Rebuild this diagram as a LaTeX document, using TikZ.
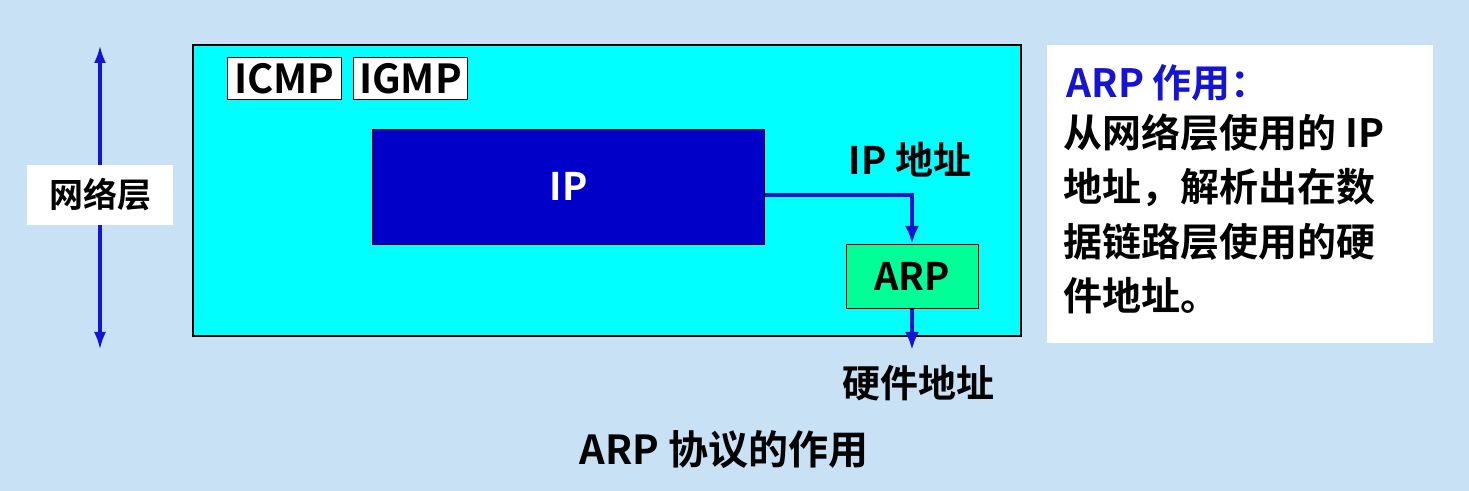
\documentclass[tikz,border=0pt]{standalone}
\usetikzlibrary{arrows.meta}
\usepackage{fontspec}
\setmainfont{Noto Sans CJK SC}[BoldFont={Noto Sans CJK SC Bold}]
\definecolor{cy}{RGB}{0,255,255}
\definecolor{bg}{RGB}{200,225,245}
\definecolor{ab}{RGB}{20,20,210}
\begin{document}
\begin{tikzpicture}[x=0.5pt,y=-0.5pt,
  t/.style={font=\fontsize{19}{23}\selectfont\bfseries},
  ar/.style={draw=ab,line width=2.2pt,-{Latex[length=9pt,width=7pt]}}]
\fill[bg] (0,0) rectangle (1469,491);
\useasboundingbox (0,0) rectangle (1469,491);
\node[draw,line width=1.2pt,fill=cy,minimum width=414pt,minimum height=145.5pt,anchor=north west] (net) at (192,44) {};
\node[draw,fill=white,font=\fontsize{20}{23}\selectfont\bfseries,inner sep=0pt,minimum width=57pt,minimum height=21pt,anchor=north west] (icmp) at (227,57) {ICMP};
\node[draw,fill=white,font=\fontsize{20}{23}\selectfont\bfseries,inner sep=0pt,minimum width=57pt,minimum height=21pt,anchor=north west] (igmp) at (353,57) {IGMP};
\node[draw,fill={rgb,255:red,0;green,0;blue,200},text=white,t,minimum width=196pt,minimum height=57.5pt,anchor=north west] (ip) at (372,129) {IP};
\node[draw,fill={rgb,255:red,0;green,255;blue,150},t,minimum width=66pt,minimum height=32pt,anchor=north west] (arp) at (846,244) {ARP};
\coordinate (c1) at (912,195);
\coordinate (hw) at (912,350);
\draw[ar] (ip.east|-c1) -- (c1) -- (arp.north-|c1);
\draw[ar] (arp.south-|c1) -- (hw);
\node[t] (ipaddr) at (910,160) {IP 地址};
\node[t] (hwaddr) at (918,383) {硬件地址};
\coordinate (vt) at (100,45); \coordinate (vb) at (100,350);
\draw[draw=ab,line width=2pt,{Latex[length=9pt,width=6pt]}-{Latex[length=9pt,width=6pt]}] (vt) -- (vb);
\node[fill=white,font=\fontsize{17}{20}\selectfont\bfseries,minimum width=73pt,minimum height=30pt] (layer) at (100,195) {网络层};
\node[fill=white,minimum width=193pt,minimum height=149pt,anchor=north west] (box) at (1047,45) {};
\node[font=\fontsize{19.5}{23}\selectfont\bfseries,text=ab,anchor=west,inner sep=0pt] (h) at (1066,83) {ARP 作用：};
\node[anchor=north west,align=left,inner sep=0pt,font=\fontsize{19.5}{27.3}\selectfont\bfseries] (body) at (1063,113) {从网络层使用的 IP\\地址，解析出在数\\据链路层使用的硬\\件地址。};
\node[font=\fontsize{20}{24}\selectfont\bfseries] (cap) at (724,450) {ARP 协议的作用};
\end{tikzpicture}
\end{document}
